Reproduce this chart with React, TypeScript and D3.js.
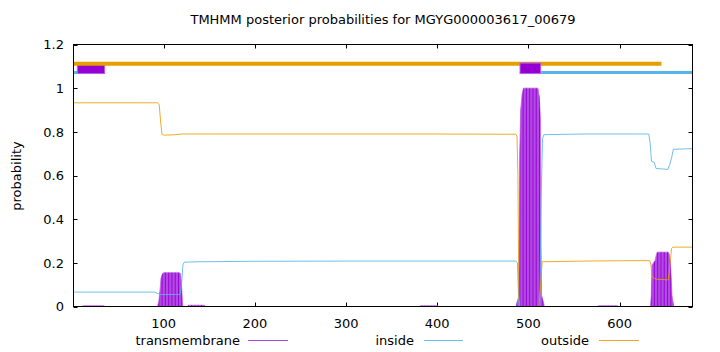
import React from 'react';
import * as d3 from 'd3';

const TITLE = 'TMHMM posterior probabilities for MGYG000003617_00679';
const Y_LABEL = 'probability';
const SEQ_START = 1;
const SEQ_LENGTH = 680;
const X_TICKS = [100, 200, 300, 400, 500, 600];
const Y_TICKS = [0, 0.2, 0.4, 0.6, 0.8, 1, 1.2];
const Y_TICK_LABELS = ['0', '0.2', '0.4', '0.6', '0.8', '1', '1.2'];
const SERIES_NAMES = ['transmembrane', 'inside', 'outside'];

// [residue position, posterior probability]
const transmembrane: [number, number][] = [
  [1, 0], [10, 0], [12, 0.003], [34, 0.003], [36, 0],
  [93, 0], [94.5, 0.02], [96, 0.08], [97, 0.13], [98.5, 0.15], [100, 0.155],
  [117, 0.155], [118.5, 0.15], [119.5, 0.1], [120.5, 0.02], [121, 0],
  [126, 0], [127, 0.006], [144, 0.006], [146, 0],
  [380, 0], [382, 0.003], [400, 0.003], [402, 0],
  [486.5, 0], [487.5, 0.02], [489, 0.04], [490, 0.2], [490.5, 0.7], [491.5, 0.9],
  [493, 0.97], [494.5, 1], [510.5, 1], [512, 0.96], [513.3, 0.85], [513.8, 0.3],
  [514.5, 0.05], [516.5, 0.02], [517.5, 0],
  [576, 0], [577, 0.003], [598, 0.003], [599, 0],
  [634, 0], [634.8, 0.05], [635.6, 0.19], [638.9, 0.21], [640.5, 0.24], [641.5, 0.249],
  [653.4, 0.249], [654.5, 0.24], [655.9, 0.2], [657.5, 0.05], [659.5, 0], [680, 0],
];

const inside: [number, number][] = [
  [1, 0.066], [90, 0.066], [93, 0.06], [96, 0.055], [118, 0.055], [119.5, 0.1],
  [121, 0.19], [122.5, 0.203], [140, 0.205], [200, 0.207], [300, 0.208],
  [400, 0.208], [486, 0.208], [488, 0.2], [489.5, 0], [512.5, 0], [514, 0.5],
  [515.5, 0.77], [517, 0.787], [560, 0.79], [632, 0.79], [633.5, 0.75],
  [635, 0.665], [638, 0.66], [640, 0.632], [653, 0.628], [655, 0.65],
  [657, 0.68], [659, 0.72], [680, 0.723],
];

const outside: [number, number][] = [
  [1, 0.933], [93, 0.933], [95, 0.925], [96.5, 0.85], [98, 0.79], [100, 0.785],
  [110, 0.786], [120, 0.79], [150, 0.79], [300, 0.79], [400, 0.79], [486, 0.789],
  [487.5, 0.78], [488.5, 0.6], [489.5, 0.05], [490.5, 0], [511.5, 0], [513.5, 0.1],
  [515, 0.205], [560, 0.208], [620, 0.21], [633, 0.21], [634.5, 0.19],
  [635.5, 0.135], [640, 0.125], [653.5, 0.122], [655.5, 0.2], [657, 0.265],
  [658.5, 0.272], [680, 0.272],
];

// predicted topology drawn above the curves, in drawing order
const topology: { kind: string; from: number; to: number }[] = [
  { kind: 'transmembrane', from: 5.2, to: 35.2 },
  { kind: 'outside', from: 1, to: 646 },
  { kind: 'inside', from: 1, to: 5.2 },
  { kind: 'transmembrane', from: 490.8, to: 513.5 },
  { kind: 'inside', from: 514, to: 680 },
];
const TOP_LEVEL: Record<string, number> = { outside: 1.112, inside: 1.072, transmembrane: 1.091 };

const COLORS: Record<string, string> = {
  transmembrane: '#9400d3',
  inside: '#56b4e9',
  outside: '#e69f00',
};

const W = 720;
const H = 352;
const L = 73.5;
const R = 692.5;
const T = 44.5;
const B = 306.5;
const FONT = 'DejaVu Sans, sans-serif';

export default function App() {
  const x = d3.scaleLinear().domain([SEQ_START, SEQ_LENGTH]).range([L, R]);
  const y = d3.scaleLinear().domain([0, 1.2]).range([B, T]);

  const line = d3.line<[number, number]>().x((d) => x(d[0])).y((d) => y(d[1]));
  const area = d3
    .area<[number, number]>()
    .x((d) => x(d[0]))
    .y0(y(0))
    .y1((d) => y(d[1]));

  const tmPath = area(transmembrane) || '';
  const stripes = d3.range(SEQ_START, SEQ_LENGTH, 3.6);

  const legendItems = [
    { name: SERIES_NAMES[0], textEnd: 240, x1: 248, x2: 288 },
    { name: SERIES_NAMES[1], textEnd: 414, x1: 424, x2: 463 },
    { name: SERIES_NAMES[2], textEnd: 589, x1: 599, x2: 639 },
  ];
  const legendColors: Record<string, string> = {
    transmembrane: '#a848d8',
    inside: '#6cbdea',
    outside: '#e8a820',
  };

  return (
    <svg
      width={W}
      height={H}
      style={{ position: 'absolute', left: 0, top: 0, background: '#fff' }}
      fontFamily={FONT}
    >
      <rect x={0} y={0} width={W} height={H} fill="#fff" />
      <defs>
        <clipPath id="tmclip">
          <path d={tmPath} />
        </clipPath>
        <clipPath id="plotclip">
          <rect x={L} y={T} width={R - L} height={B - T} />
        </clipPath>
      </defs>

      {/* ticks */}
      <g stroke="#000" strokeWidth={1}>
        {X_TICKS.map((t) => (
          <g key={'xt' + t}>
            <line x1={Math.round(x(t)) + 0.5} x2={Math.round(x(t)) + 0.5} y1={B} y2={B - 4} />
            <line x1={Math.round(x(t)) + 0.5} x2={Math.round(x(t)) + 0.5} y1={T} y2={T + 4} />
          </g>
        ))}
        {Y_TICKS.map((t) => (
          <g key={'yt' + t}>
            <line x1={L} x2={L + 4} y1={Math.round(y(t)) + 0.5} y2={Math.round(y(t)) + 0.5} />
            <line x1={R} x2={R - 4} y1={Math.round(y(t)) + 0.5} y2={Math.round(y(t)) + 0.5} />
          </g>
        ))}
      </g>

      <g clipPath="url(#plotclip)">
        {/* transmembrane impulses */}
        <path d={tmPath} fill="#b349e3" stroke="#bf6ae8" strokeWidth={0.8} />
        <g clipPath="url(#tmclip)">
          {stripes.map((s, i) => (
            <line key={i} x1={x(s)} x2={x(s)} y1={T} y2={B} stroke="#9400d3" strokeWidth={0.9} />
          ))}
        </g>
        <path d={line(inside) || ''} fill="none" stroke={COLORS.inside} strokeWidth={1} strokeOpacity={0.85} />
        <path d={line(outside) || ''} fill="none" stroke={COLORS.outside} strokeWidth={1} strokeOpacity={0.85} />

        {/* predicted topology */}
        {topology.map((seg, i) =>
          seg.kind === 'transmembrane' ? (
            <rect
              key={i}
              x={x(seg.from)}
              y={y(TOP_LEVEL.transmembrane + 0.024)}
              width={x(seg.to) - x(seg.from)}
              height={y(TOP_LEVEL.transmembrane - 0.024) - y(TOP_LEVEL.transmembrane + 0.024)}
              fill="#9400d3"
              stroke="#b860e6"
              strokeWidth={1}
            />
          ) : (
            <line
              key={i}
              x1={x(seg.from)}
              x2={x(seg.to)}
              y1={y(TOP_LEVEL[seg.kind])}
              y2={y(TOP_LEVEL[seg.kind])}
              stroke={COLORS[seg.kind]}
              strokeWidth={seg.kind === 'outside' ? 4 : 3}
            />
          )
        )}
      </g>

      {/* border */}
      <rect x={L} y={T} width={R - L} height={B - T} fill="none" stroke="#000" strokeWidth={1} />

      {/* tick labels */}
      <g fontSize={13} fill="#000">
        {X_TICKS.map((t) => (
          <text key={'xl' + t} x={x(t)} y={327.5} textAnchor="middle">
            {t}
          </text>
        ))}
        {Y_TICKS.map((t, i) => (
          <text key={'yl' + t} x={64} y={y(t) + 4.7} textAnchor="end">
            {Y_TICK_LABELS[i]}
          </text>
        ))}
      </g>

      <text x={(L + R) / 2} y={24} textAnchor="middle" fontSize={13} fill="#000">
        {TITLE}
      </text>
      <text
        transform={`translate(21,176) rotate(-90)`}
        textAnchor="middle"
        fontSize={13}
        fill="#000"
      >
        {Y_LABEL}
      </text>

      {/* legend */}
      <g fontSize={13} fill="#000">
        {legendItems.map((it) => (
          <g key={it.name}>
            <text x={it.textEnd} y={344.5} textAnchor="end">
              {it.name}
            </text>
            <line x1={it.x1} x2={it.x2} y1={340.5} y2={340.5} stroke={legendColors[it.name]} strokeWidth={1} />
          </g>
        ))}
      </g>
    </svg>
  );
}
